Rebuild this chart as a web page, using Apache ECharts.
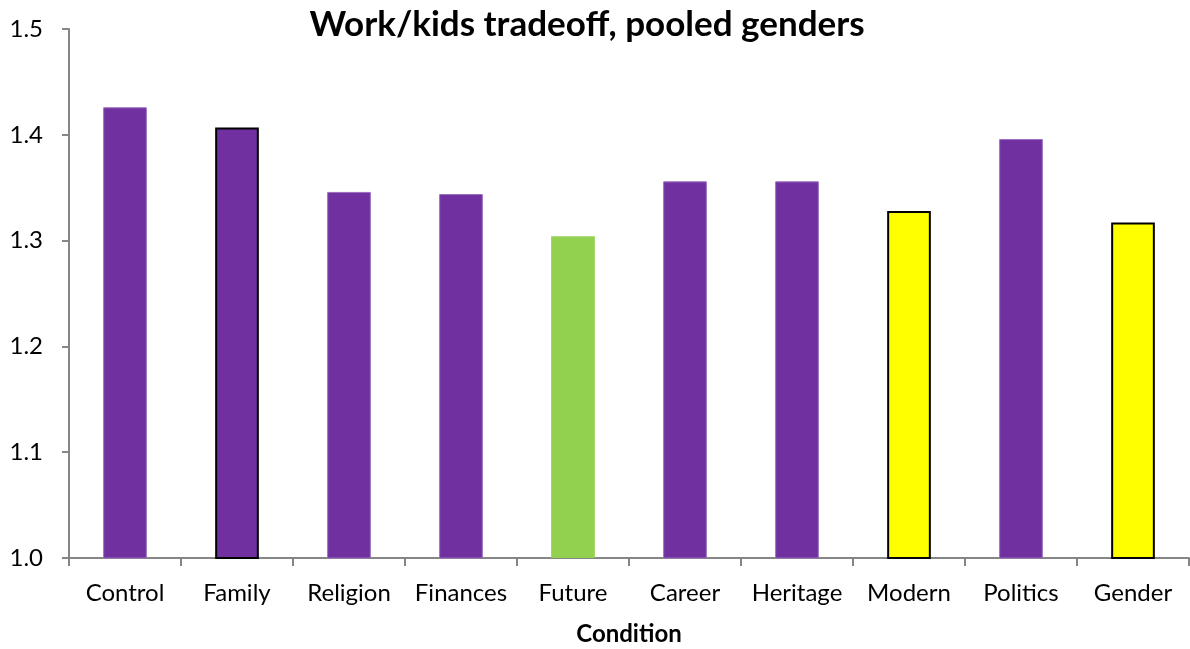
<!DOCTYPE html>
<html>
<head>
<meta charset="utf-8">
<script src="https://cdn.jsdelivr.net/npm/echarts@6/dist/echarts.min.js"></script>
<style>
  html, body { margin: 0; padding: 0; background: #fff; overflow: hidden; }
  #chart { width: 1190px; height: 649px; }
</style>
</head>
<body>
<div id="chart"></div>
<script>
// Mean work/kids tradeoff score per experimental condition
const conditions = ['Control', 'Family', 'Religion', 'Finances', 'Future', 'Career', 'Heritage', 'Modern', 'Politics', 'Gender'];
const scores = [1.426, 1.407, 1.346, 1.344, 1.304, 1.356, 1.356, 1.328, 1.396, 1.317];
// Fill group per condition: base, outlined, highlight (green), outlined highlight (yellow)
const groups = ['base', 'outlined', 'base', 'base', 'green', 'base', 'base', 'yellow', 'base', 'yellow'];
const yTicks = [1.0, 1.1, 1.2, 1.3, 1.4, 1.5];

const styles = {
  base:     { color: '#7030A0', borderColor: '#9a6fc0', borderWidth: 1 },
  outlined: { color: '#7030A0', borderColor: '#000000', borderWidth: 2 },
  green:    { color: '#92D050', borderColor: '#92D050', borderWidth: 0 },
  yellow:   { color: '#FFFF00', borderColor: '#000000', borderWidth: 2 }
};

const font = 'Lato, "Open Sans", sans-serif';
const chart = echarts.init(document.getElementById('chart'), null, { renderer: 'canvas', width: 1190, height: 649 });

chart.setOption({
  animation: false,
  backgroundColor: '#ffffff',
  title: {
    text: 'Work/kids tradeoff, pooled genders',
    left: 582,
    textAlign: 'center',
    top: 2,
    textStyle: { fontFamily: font, fontWeight: 'bold', fontSize: 35, color: '#000' }
  },
  grid: { left: 69, width: 1120, top: 29, height: 529, containLabel: false, outerBoundsMode: 'none' },
  xAxis: {
    type: 'category',
    data: conditions,
    name: 'Condition',
    nameLocation: 'middle',
    nameGap: 64,
    nameTextStyle: { fontFamily: font, fontWeight: 'bold', fontSize: 24, color: '#000' },
    axisLine: { lineStyle: { color: '#868686', width: 2 } },
    axisTick: { show: true, length: 8, lineStyle: { color: '#868686', width: 2 }, alignWithLabel: false },
    axisLabel: { fontFamily: font, fontSize: 24, color: '#000', margin: 23, interval: 0 }
  },
  yAxis: {
    type: 'value',
    min: yTicks[0],
    max: yTicks[yTicks.length - 1],
    interval: 0.1,
    splitLine: { show: false },
    axisLine: { show: true, lineStyle: { color: '#868686', width: 2 } },
    axisTick: { show: true, length: 7, lineStyle: { color: '#868686', width: 2 } },
    axisLabel: {
      fontFamily: font, fontSize: 24, color: '#000', margin: 26,
      formatter: v => v.toFixed(1)
    }
  },
  series: [{
    type: 'bar',
    barWidth: '39%',
    data: scores.map((v, i) => ({ value: v, itemStyle: styles[groups[i]] }))
  }]
});
</script>
</body>
</html>
